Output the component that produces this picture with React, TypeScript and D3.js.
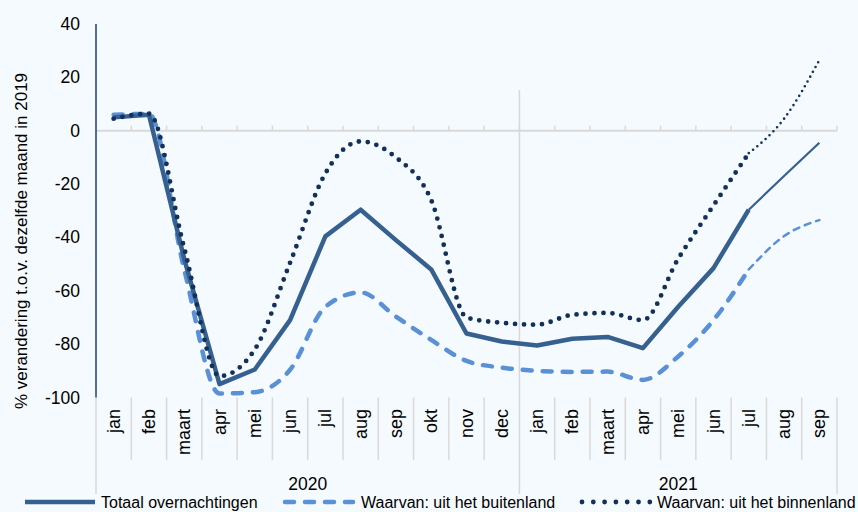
import * as d3 from "d3";

const months = [
  "jan", "feb", "maart", "apr", "mei", "jun", "jul", "aug", "sep", "okt", "nov", "dec",
  "jan", "feb", "maart", "apr", "mei", "jun", "jul", "aug", "sep",
];
const years = [
  { label: "2020", from: 0, to: 12 },
  { label: "2021", from: 12, to: 21 },
];
const yTicks = [40, 20, 0, -20, -40, -60, -80, -100];

// % verandering t.o.v. dezelfde maand in 2019
const totaal = [5, 6, -48, -95, -89.5, -71, -39.6, -29.6, -41, -52, -76, -79, -80.5, -78, -77.3, -81.5, -66, -51.5, -29.6, -17, -4.5];
const buitenland = [6, 6.3, -52, -98.5, -98, -89.6, -66, -60.6, -69.7, -78.4, -86.3, -88.8, -90, -90.4, -90.3, -93.4, -84.6, -71, -52, -39.5, -33.5];
const binnenland = [4.5, 6.4, -44, -92, -82, -49.5, -16, -4, -10, -26, -70, -72, -72.7, -69, -68.3, -71, -48, -28, -8.4, 4.5, 26.5];

// last measured month; what follows is drawn thinner
const splitAt = 18;

const W = 858;
const H = 512;

const cSolid = "#35608f";
const cDash = "#5a90d6";
const cDot = "#13305a";
const grid = "#d9d9d9";

export default function App() {
  const x = d3.scaleBand<number>().domain(d3.range(months.length)).range([96, 837]);
  const y = d3.scaleLinear().domain([-100, 40]).range([397.5, 24]);
  const cx = (i: number) => x(i)! + x.bandwidth() / 2;
  const bound = (i: number) => 96 + i * x.step();

  const mk = (offset: number, curve: d3.CurveFactory) =>
    d3.line<number>().x((_, i) => cx(i + offset)).y((d) => y(d)).curve(curve);
  const head = (arr: number[], curve: d3.CurveFactory) => mk(0, curve)(arr.slice(0, splitAt + 1))!;
  const tail = (arr: number[], curve: d3.CurveFactory) => mk(splitAt, curve)(arr.slice(splitAt))!;

  const font = "'Liberation Sans', Arial, sans-serif";

  return (
    <svg width={W} height={H} style={{ position: "absolute", left: 0, top: 0, background: "#f5fafe" }} fontFamily={font}>
      <rect width={W} height={H} fill="#f5fafe" />

      {/* zero line with small ticks */}
      <line x1={96} x2={837} y1={y(0)} y2={y(0)} stroke={grid} strokeWidth={2} />
      {d3.range(1, months.length + 1).map((i) => (
        <line key={"zt" + i} x1={bound(i)} x2={bound(i)} y1={y(0)} y2={y(0) - 5} stroke={grid} strokeWidth={1.5} />
      ))}

      {/* category separators below the plot */}
      {d3.range(0, months.length + 1).map((i) => {
        const long = i === 0 || i === 12 || i === months.length;
        return (
          <line key={"sep" + i} x1={bound(i)} x2={bound(i)} y1={i === 12 ? 90 : 397.5} y2={long ? 494 : 460} stroke={grid} strokeWidth={1.5} />
        );
      })}

      {/* y axis */}
      <line x1={96} x2={96} y1={24} y2={397.5} stroke="#1f3f6f" strokeWidth={1.5} />
      {yTicks.map((t) => (
        <text key={t} x={80} y={y(t)} textAnchor="end" dominantBaseline="central" fontSize={17.5} fill="#000">
          {t}
        </text>
      ))}
      <text transform={`translate(21,241) rotate(-90)`} textAnchor="middle" dominantBaseline="central" fontSize={17} fill="#000">
        % verandering t.o.v. dezelfde maand in 2019
      </text>

      {/* month labels */}
      {months.map((m, i) => (
        <text key={"m" + i} transform={`translate(${cx(i)},409) rotate(-90)`} textAnchor="end" dominantBaseline="central" fontSize={18} fill="#000">
          {m}
        </text>
      ))}
      {years.map((yr) => (
        <text key={yr.label} x={(bound(yr.from) + bound(yr.to)) / 2} y={490} textAnchor="middle" fontSize={17.5} fill="#000">
          {yr.label}
        </text>
      ))}

      {/* series */}
      <path d={head(buitenland, d3.curveMonotoneX)} fill="none" stroke={cDash} strokeWidth={4.5} strokeDasharray="9 11" strokeLinecap="round" />
      <path d={tail(buitenland, d3.curveMonotoneX)} fill="none" stroke={cDash} strokeWidth={2.5} strokeDasharray="6 6" strokeLinecap="round" />

      <path d={head(totaal, d3.curveLinear)} fill="none" stroke={cSolid} strokeWidth={4.5} strokeLinejoin="round" />
      <path d={tail(totaal, d3.curveLinear)} fill="none" stroke={cSolid} strokeWidth={2.2} />

      <path d={head(binnenland, d3.curveMonotoneX)} fill="none" stroke={cDot} strokeWidth={4.8} strokeDasharray="0 9" strokeLinecap="round" />
      <path d={tail(binnenland, d3.curveMonotoneX)} fill="none" stroke={cDot} strokeWidth={2.6} strokeDasharray="0 5.5" strokeLinecap="round" />

      {/* legend */}
      <line x1={25} x2={95} y1={502} y2={502} stroke={cSolid} strokeWidth={4.5} />
      <text x={101} y={502} dominantBaseline="central" fontSize={16} fill="#000">Totaal overnachtingen</text>
      <line x1={285} x2={353} y1={502} y2={502} stroke={cDash} strokeWidth={4.5} strokeDasharray="9 11" strokeLinecap="round" />
      <text x={361} y={502} dominantBaseline="central" fontSize={16} fill="#000">Waarvan: uit het buitenland</text>
      <line x1={582} x2={650} y1={502} y2={502} stroke={cDot} strokeWidth={4.8} strokeDasharray="0 11.3" strokeLinecap="round" />
      <text x={657} y={502} dominantBaseline="central" fontSize={16} fill="#000">Waarvan: uit het binnenland</text>
    </svg>
  );
}
